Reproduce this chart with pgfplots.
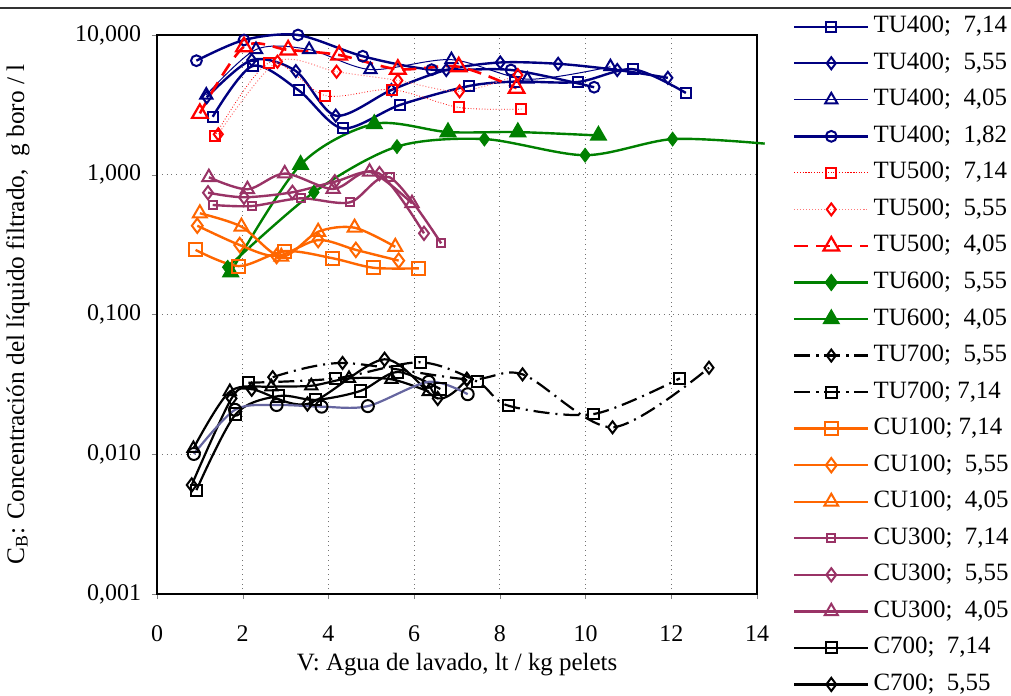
\documentclass[border=0pt]{standalone}
\usepackage{fontspec}
\setmainfont{Liberation Serif}
\usepackage{pgfplots}
\pgfplotsset{compat=1.18}
\definecolor{navy}{RGB}{0,0,128}
\definecolor{xred}{RGB}{255,0,0}
\definecolor{xpink}{RGB}{255,120,120}
\definecolor{xgreen}{RGB}{0,128,0}
\definecolor{xorange}{RGB}{255,102,0}
\definecolor{xpurple}{RGB}{153,51,102}
\definecolor{bluegray}{RGB}{102,102,160}
\begin{document}
\begin{tikzpicture}
\path[use as bounding box] (-78.5bp,-51bp) rectangle (427bp,297bp);
\draw[line width=0.8bp,black!80] (-78.5bp,293bp) -- (427bp,293bp);
\begin{axis}[
  scale only axis, width=300bp, height=279.5bp,
  at={(0,0)}, anchor=south west,
  xmin=0, xmax=14, ymin=0.001, ymax=10, ymode=log,
  xtick={0,2,...,14},
  ytick={0.001,0.01,0.1,1,10},
  yticklabels={{0,001},{0,010},{0,100},{1,000},{10,000}},
  /pgf/number format/assume math mode=true,
  tick label style={font=\fontsize{12}{14}\selectfont},
  tick align=outside, major tick length=2.5bp,
  xtick pos=bottom, ytick pos=left,
  minor tick num=0, yminorticks=false,
  grid=major,
  major grid style={black!55, dotted, line width=0.6bp},
  axis line style={line width=1.1bp, black},
  clip=false,
  every axis x label/.style={at={(axis description cs:0.5,-0.1270)}, anchor=center, font=\fontsize{12.5}{14}\selectfont},
  every axis y label/.style={at={(axis description cs:-0.2317,0.5)}, rotate=90, anchor=center, font=\fontsize{12.7}{14}\selectfont},
  xlabel={V: Agua de lavado, lt / kg pelets},
  ylabel={C\textsubscript{B}: Concentración del líquido filtrado,~~g boro / l},
  x tick label style={yshift=-10bp},
  y tick label style={xshift=-2bp},
  legend cell align=left,
  legend image code/.code={\draw[mark repeat=2,mark phase=2,#1] plot coordinates {(0bp,0bp) (18.5bp,0bp) (37bp,0bp)};},
  legend style={at={(axis description cs:1.0600,1.0363)}, anchor=north west, draw=none, fill=none,
    inner sep=0pt, outer sep=0pt, row sep=6.27bp, column sep=2bp,
    font=\fontsize{12.5}{13}\selectfont,
    nodes={inner sep=0pt, text height=9bp, text depth=3bp}},
]
% TU400 7,14
\addplot[navy, line width=1.2bp, smooth, mark=square, mark size=2.5bp, mark options={solid, line width=1bp}] coordinates {
(1.30,2.60) (2.23,6.0) (3.31,4.01) (4.33,2.15) (5.67,3.16) (7.27,4.31) (8.36,4.64) (9.82,4.61) (11.11,5.69) (12.34,3.85)};
\addlegendentry{TU400;~~7,14}
% TU400 5,55
\addplot[navy, line width=1.2bp, smooth, mark=diamond, mark size=3bp, mark options={solid, line width=1bp}] coordinates {
(1.16,3.58) (2.21,6.62) (3.24,5.52) (4.17,2.65) (5.47,4.04) (6.75,5.62) (8.01,6.36) (9.36,6.22) (10.74,5.62) (11.92,4.94)};
\addlegendentry{TU400;~~5,55}
% TU400 4,05
\addplot[navy, line width=0.5bp, smooth, mark=triangle, mark size=3.5bp, mark options={solid, line width=1bp}] coordinates {
(1.15,3.72) (2.31,7.87) (3.55,7.87) (4.98,5.66) (6.87,6.66) (8.64,4.83) (10.58,5.93)};
\addlegendentry{TU400;~~4,05}
% TU400 1,82
\addplot[navy, line width=1.2bp, smooth, mark=o, mark size=2.7bp, mark options={solid, line width=1bp}] coordinates {
(0.92,6.55) (2.03,9.21) (3.29,10.0) (4.80,7.05) (6.41,5.65) (8.26,5.62) (10.20,4.23)};
\addlegendentry{TU400;~~1,82}
% TU500 7,14
\addplot[xred, line width=0.4bp, densely dotted, smooth, mark=square, mark size=2.5bp, mark options={solid, line width=1bp}] coordinates {
(1.35,1.89) (2.62,6.34) (3.93,3.68) (5.48,4.07) (7.05,3.03) (8.50,2.95)};
\addlegendentry{TU500;~~7,14}
% TU500 5,55
\addplot[xpink, line width=0.5bp, densely dotted, smooth, mark=diamond, mark size=3bp, mark options={solid, line width=1bp, draw=xred}] coordinates {
(1.43,1.95) (2.81,6.44) (4.19,5.46) (5.62,4.73) (7.06,3.95) (8.42,5.17)};
\addlegendentry{TU500;~~5,55}
% TU500 4,05
\addplot[xred, line width=1.3bp, dash pattern=on 7bp off 4bp, smooth, mark=triangle, mark size=4.5bp, mark options={solid, line width=1.1bp}] coordinates {
(1.00,2.75) (2.03,8.25) (3.06,7.82) (4.25,7.19) (5.62,5.69) (7.04,5.93) (8.39,4.16)};
\addlegendentry{TU500;~~4,05}
% TU600 5,55
\addplot[xgreen, line width=1.2bp, smooth, forget plot] coordinates {
(1.65,0.218) (3.66,0.749) (5.60,1.59) (7.64,1.80) (9.99,1.38) (12.03,1.80) (14.18,1.67)};
\addplot[xgreen, only marks, mark=diamond*, mark size=3.5bp, forget plot] coordinates {
(1.65,0.218) (3.66,0.749) (5.60,1.59) (7.64,1.80) (9.99,1.38) (12.03,1.80)};
\addlegendimage{xgreen, line width=1.2bp, mark=diamond*, mark size=3.5bp}
\addlegendentry{TU600;~~5,55}
% TU600 4,05
\addplot[xgreen, line width=1.2bp, smooth, mark=triangle*, mark size=4bp, mark options={solid}] coordinates {
(1.72,0.201) (3.35,1.18) (5.07,2.31) (6.79,2.02) (8.42,2.02) (10.30,1.91)};
\addlegendentry{TU600;~~4,05}
% TU700 5,55
\addplot[black, line width=1.1bp, dash pattern=on 8bp off 3bp on 1bp off 3bp, smooth, mark=diamond, mark size=3bp, mark options={solid, line width=1bp}] coordinates {
(2.70,0.0356) (4.33,0.0450) (7.23,0.0344) (8.53,0.0373) (10.63,0.0156) (12.88,0.0416)};
\addlegendentry{TU700;~~5,55}
% TU700 7,14
\addplot[black, line width=1.1bp, dash pattern=on 8bp off 3bp on 1bp off 3bp, smooth, mark=square, mark size=2.7bp, mark options={solid, line width=1bp}] coordinates {
(2.13,0.0325) (4.17,0.0349) (6.14,0.0455) (7.48,0.0330) (8.21,0.0222) (10.19,0.0194) (12.20,0.0349)};
\addlegendentry{TU700; 7,14}
% CU100 7,14
\addplot[xorange, line width=1.2bp, smooth, mark=square, mark size=3.3bp, mark options={solid, line width=1bp}] coordinates {
(0.90,0.290) (1.91,0.222) (2.98,0.284) (4.09,0.253) (5.05,0.216) (6.11,0.214)};
\addlegendentry{CU100; 7,14}
% CU100 5,55
\addplot[xorange, line width=1.2bp, smooth, mark=diamond, mark size=3.6bp, mark options={solid, line width=1bp}] coordinates {
(0.94,0.432) (1.93,0.314) (2.79,0.262) (3.76,0.341) (4.64,0.290) (5.64,0.243)};
\addlegendentry{CU100;~~5,55}
% CU100 4,05
\addplot[xorange, line width=1.2bp, smooth, mark=triangle, mark size=4bp, mark options={solid, line width=1bp}] coordinates {
(1.00,0.530) (1.97,0.425) (2.90,0.259) (3.76,0.391) (4.61,0.418) (5.56,0.305)};
\addlegendentry{CU100;~~4,05}
% CU300 7,14
\addplot[xpurple, line width=1.2bp, smooth, mark=square, mark size=2bp, mark options={solid, line width=1bp}] coordinates {
(1.30,0.608) (2.21,0.597) (3.35,0.678) (4.50,0.635) (5.43,0.959) (6.63,0.323)};
\addlegendentry{CU300;~~7,14}
% CU300 5,55
\addplot[xpurple, line width=1.2bp, smooth, mark=diamond, mark size=3.3bp, mark options={solid, line width=1bp}] coordinates {
(1.19,0.744) (2.03,0.690) (3.16,0.749) (4.15,0.892) (5.19,1.02) (6.23,0.381)};
\addlegendentry{CU300;~~5,55}
% CU300 4,05
\addplot[xpurple, line width=1.2bp, smooth, mark=triangle, mark size=3.8bp, mark options={solid, line width=1bp}] coordinates {
(1.21,0.959) (2.11,0.787) (2.98,1.02) (4.11,0.791) (4.96,1.05) (5.95,0.625)};
\addlegendentry{CU300;~~4,05}
% C700 7,14
\addplot[black, line width=1.1bp, smooth, mark=square, mark size=2.8bp, mark options={solid, line width=1bp}] coordinates {
(0.92,0.00554) (1.84,0.0194) (2.84,0.0261) (3.70,0.0245) (4.75,0.0284) (5.61,0.0388) (6.61,0.0293)};
\addlegendentry{C700;~~7,14}
% C700 5,55
\addplot[black, line width=1.1bp, smooth, mark=diamond, mark size=3.3bp, mark options={solid, line width=1bp}] coordinates {
(0.81,0.00603) (1.74,0.0251) (2.21,0.0292) (3.51,0.0229) (5.31,0.0478) (6.55,0.0251) (7.23,0.0344)};
\addlegendentry{C700;~~5,55}
% C700 4,05 (not in visible legend)
\addplot[black, line width=1.1bp, smooth, mark=triangle, mark size=3.5bp, mark options={solid, line width=1bp}, forget plot] coordinates {
(0.85,0.0110) (1.70,0.0281) (2.67,0.0304) (3.60,0.0309) (4.48,0.0349) (5.47,0.0344) (6.34,0.0281)};
% C700 1,82 (not in visible legend)
\addplot[bluegray, line width=1.1bp, smooth, mark=o, mark size=3bp, mark options={solid, line width=1bp, draw=black}, forget plot] coordinates {
(0.86,0.01005) (1.82,0.0208) (2.79,0.0225) (3.84,0.0219) (4.92,0.0221) (6.34,0.0330) (7.25,0.0269)};
\end{axis}
\end{tikzpicture}
\end{document}
